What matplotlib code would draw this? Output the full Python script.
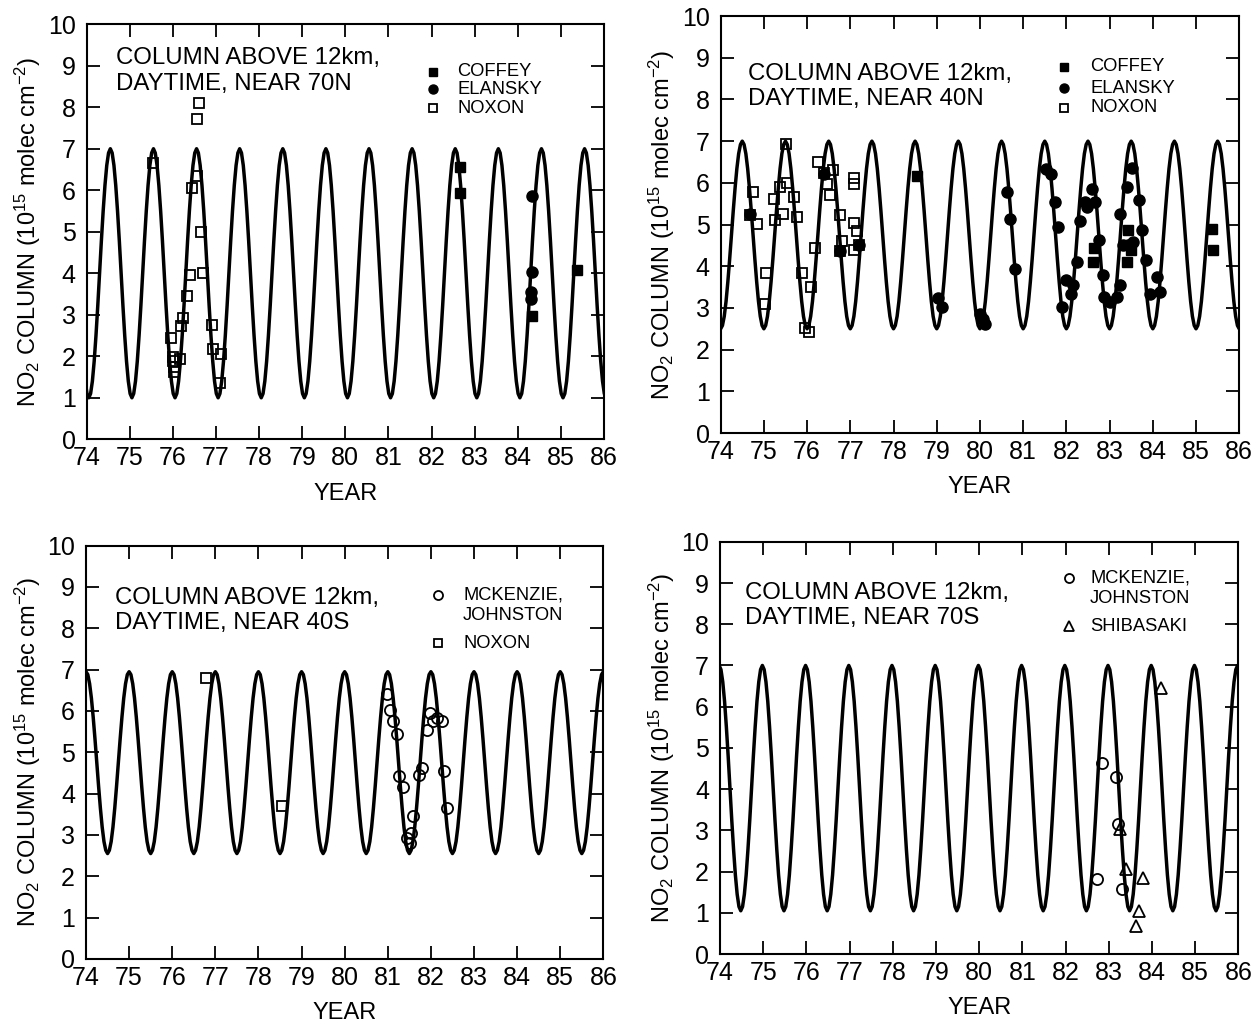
import numpy as np
import matplotlib
matplotlib.use("Agg")
import matplotlib.pyplot as plt

plt.rcParams['font.family'] = ['Liberation Sans', 'DejaVu Sans']
plt.rcParams['mathtext.fontset'] = 'custom'
plt.rcParams['mathtext.rm'] = 'Liberation Sans'
plt.rcParams['mathtext.it'] = 'Liberation Sans:italic'
plt.rcParams['mathtext.bf'] = 'Liberation Sans:bold'

# model seasonal cycle, one year (24 steps, starting at the minimum)
cycle_70n = [1.00, 1.10, 1.40, 1.88, 2.50, 3.22, 4.00, 4.78, 5.50, 6.12, 6.60, 6.90,
             7.00, 6.90, 6.60, 6.12, 5.50, 4.78, 4.00, 3.22, 2.50, 1.88, 1.40, 1.10]
cycle_40n = [2.50, 2.58, 2.80, 3.16, 3.63, 4.17, 4.75, 5.33, 5.87, 6.34, 6.70, 6.92,
             7.00, 6.92, 6.70, 6.34, 5.87, 5.33, 4.75, 4.17, 3.63, 3.16, 2.80, 2.58]
cycle_40s = [2.55, 2.63, 2.84, 3.19, 3.65, 4.18, 4.75, 5.32, 5.85, 6.31, 6.66, 6.88,
             6.95, 6.88, 6.66, 6.31, 5.85, 5.32, 4.75, 4.18, 3.65, 3.19, 2.84, 2.63]
cycle_70s = [1.05, 1.15, 1.45, 1.92, 2.54, 3.25, 4.03, 4.80, 5.51, 6.13, 6.60, 6.90,
             7.00, 6.90, 6.60, 6.13, 5.51, 4.80, 4.03, 3.25, 2.54, 1.92, 1.45, 1.15]
# time of the yearly minimum (fraction of year)
min_70n = 0.05
min_40n = 0.0
min_40s = 0.5
min_70s = 0.48
years = list(range(73, 87))

# 70N
noxon_70n_x = [75.53, 75.95, 76.00, 76.01, 76.03, 76.03, 76.16, 76.19, 76.24, 76.33, 76.39,
               76.44, 76.55, 76.57, 76.61, 76.65, 76.69, 76.90, 76.94, 77.09, 77.12]
noxon_70n_y = [6.66, 2.45, 1.99, 1.89, 1.75, 1.63, 1.94, 2.73, 2.93, 3.46, 3.96,
               6.05, 7.72, 6.35, 8.10, 5.00, 4.01, 2.75, 2.18, 1.35, 2.05]
coffey_70n_x = [82.66, 82.66, 84.32, 85.37]
coffey_70n_y = [6.55, 5.94, 2.97, 4.08]
elansky_70n_x = [84.32, 84.32, 84.30, 84.30]
elansky_70n_y = [5.85, 4.02, 3.55, 3.38]

# 40N
noxon_40n_x = [74.74, 74.85, 74.68, 75.06, 75.03, 75.23, 75.26, 75.45, 75.37, 75.51, 75.53,
               75.70, 75.77, 75.88, 76.08, 75.95, 76.04, 76.19, 76.25, 76.38, 76.45, 76.59,
               76.53, 76.76, 76.80, 76.76, 77.09, 77.09, 77.09, 77.15, 77.09, 77.21]
noxon_40n_y = [5.78, 5.02, 5.22, 3.84, 3.09, 5.62, 5.11, 5.25, 5.90, 6.94, 6.00,
               5.66, 5.18, 3.83, 3.51, 2.51, 2.43, 4.43, 6.51, 6.24, 5.98, 6.30,
               5.72, 5.24, 4.60, 4.36, 6.12, 5.98, 5.04, 4.84, 4.40, 4.50]
coffey_40n_x = [78.54, 82.64, 82.61, 83.43, 83.40, 83.50, 85.37, 85.40]
coffey_40n_y = [6.16, 4.44, 4.10, 4.86, 4.10, 4.40, 4.90, 4.38]
elansky_40n_x = [74.68, 76.38, 76.76, 77.21, 79.04, 79.12, 80.00, 80.06, 80.12, 80.62, 80.70,
                 80.81, 81.53, 81.64, 81.74, 81.81, 81.99, 81.91, 82.10, 82.16, 82.24, 82.32,
                 82.43, 82.47, 82.60, 82.66, 82.76, 82.84, 82.88, 83.01, 83.17, 83.24, 83.24,
                 83.32, 83.41, 83.51, 83.43, 83.54, 83.69, 83.75, 83.85, 83.94, 84.09, 84.17]
elansky_40n_y = [5.25, 6.22, 4.36, 4.50, 3.25, 3.02, 2.86, 2.74, 2.62, 5.77, 5.14,
                 3.94, 6.33, 6.21, 5.53, 4.94, 3.66, 3.02, 3.34, 3.55, 4.10, 5.08,
                 5.53, 5.41, 5.85, 5.53, 4.62, 3.80, 3.26, 3.14, 3.26, 3.54, 5.26,
                 4.50, 5.91, 6.36, 4.50, 4.58, 5.58, 4.87, 4.16, 3.33, 3.74, 3.38]

# 40S
mck_40s_x = [80.99, 81.05, 81.12, 81.22, 81.27, 81.36, 81.44, 81.52, 81.54, 81.59,
             81.73, 81.79, 81.90, 81.97, 82.06, 82.15, 82.25, 82.31, 82.38]
mck_40s_y = [6.42, 6.03, 5.75, 5.45, 4.43, 4.16, 2.92, 2.80, 3.04, 3.45,
             4.44, 4.63, 5.54, 5.95, 5.75, 5.83, 5.75, 4.55, 3.65]
noxon_40s_x = [76.78, 78.54]
noxon_40s_y = [6.80, 3.70]

# 70S
mck_70s_x = [82.84, 83.17, 83.22, 82.73, 83.31]
mck_70s_y = [4.64, 4.30, 3.15, 1.83, 1.57]
shiba_70s_x = [83.26, 83.40, 83.80, 83.70, 83.62, 84.20]
shiba_70s_y = [3.03, 2.06, 1.85, 1.05, 0.68, 6.46]

xticks = list(range(74, 87))
yticks = list(range(0, 11))

styles = {
    'COFFEY': dict(marker='s', ms=7, mfc='black', mec='black', mew=1.0),
    'ELANSKY': dict(marker='o', ms=8, mfc='black', mec='black', mew=1.0),
    'NOXON': dict(marker='s', ms=7, mfc='none', mec='black', mew=1.3),
    'MCKENZIE': dict(marker='o', ms=8, mfc='none', mec='black', mew=1.3),
    'SHIBASAKI': dict(marker='^', ms=8, mfc='none', mec='black', mew=1.3),
}

panels = [
    dict(rect=[0.0692, 0.5706, 0.4132, 0.4057], cycle=cycle_70n, tmin=min_70n,
         title='COLUMN ABOVE 12km,\nDAYTIME, NEAR 70N', tpos=(0.057, 0.944),
         series=[('NOXON', noxon_70n_x, noxon_70n_y), ('COFFEY', coffey_70n_x, coffey_70n_y),
                 ('ELANSKY', elansky_70n_x, elansky_70n_y)],
         legend=[('COFFEY', 'COFFEY', 0.886), ('ELANSKY', 'ELANSKY', 0.843), ('NOXON', 'NOXON', 0.798)],
         lx=(0.67, 0.716)),
    dict(rect=[0.5756, 0.5767, 0.4142, 0.4076], cycle=cycle_40n, tmin=min_40n,
         title='COLUMN ABOVE 12km,\nDAYTIME, NEAR 40N', tpos=(0.053, 0.888),
         series=[('NOXON', noxon_40n_x, noxon_40n_y), ('COFFEY', coffey_40n_x, coffey_40n_y),
                 ('ELANSKY', elansky_40n_x, elansky_40n_y)],
         legend=[('COFFEY', 'COFFEY', 0.878), ('ELANSKY', 'ELANSKY', 0.827), ('NOXON', 'NOXON', 0.780)],
         lx=(0.662, 0.713)),
    dict(rect=[0.0687, 0.0626, 0.4132, 0.4040], cycle=cycle_40s, tmin=min_40s,
         title='COLUMN ABOVE 12km,\nDAYTIME, NEAR 40S', tpos=(0.056, 0.900),
         series=[('MCKENZIE', mck_40s_x, mck_40s_y), ('NOXON', noxon_40s_x, noxon_40s_y)],
         legend=[('MCKENZIE', 'MCKENZIE,', 0.881), (None, 'JOHNSTON', 0.832), ('NOXON', 'NOXON', 0.764)],
         lx=(0.681, 0.729)),
    dict(rect=[0.5751, 0.0674, 0.4141, 0.4030], cycle=cycle_70s, tmin=min_70s,
         title='COLUMN ABOVE 12km,\nDAYTIME, NEAR 70S', tpos=(0.048, 0.902),
         series=[('MCKENZIE', mck_70s_x, mck_70s_y), ('SHIBASAKI', shiba_70s_x, shiba_70s_y)],
         legend=[('MCKENZIE', 'MCKENZIE,', 0.911), (None, 'JOHNSTON', 0.863), ('SHIBASAKI', 'SHIBASAKI', 0.795)],
         lx=(0.674, 0.714)),
]

fig = plt.figure(figsize=(12.52, 10.23), dpi=100)

for p in panels:
    ax = fig.add_axes(p['rect'])
    n = len(p['cycle'])
    cx = [y + p['tmin'] + k / n for y in years for k in range(n)]
    cy = p['cycle'] * len(years)
    ax.plot(cx, cy, color='black', lw=2.5, zorder=2)
    for name, xs, ys in p['series']:
        ax.plot(xs, ys, ls='none', zorder=3, **styles[name])

    ax.set_xlim(74, 86)
    ax.set_ylim(0, 10)
    ax.set_xticks(xticks)
    ax.set_yticks(yticks)
    ax.tick_params(direction='in', length=9.5, width=1.3, top=True, right=True, labelsize=18)
    ax.tick_params(axis='y', pad=8)
    ax.tick_params(axis='x', pad=5)
    for s in ax.spines.values():
        s.set_linewidth(1.5)
    ax.set_xlabel('YEAR', fontsize=17, labelpad=9)
    ax.set_ylabel('NO$_2$ COLUMN (10$^{15}$ molec cm$^{-2}$)', fontsize=17, labelpad=3)

    ax.text(p['tpos'][0], p['tpos'][1], p['title'], transform=ax.transAxes,
            fontsize=17.3, ha='left', va='top', linespacing=1.18)

    kx, tx = p['lx']
    for key, label, ly in p['legend']:
        if key is not None:
            st = dict(styles[key])
            st['ms'] = st['ms'] - 1.5
            ax.plot([kx], [ly], transform=ax.transAxes, ls='none', clip_on=False, **st)
        ax.text(tx, ly, label, transform=ax.transAxes, fontsize=13.2, ha='left', va='center')

fig.savefig('out.png', dpi=100)
